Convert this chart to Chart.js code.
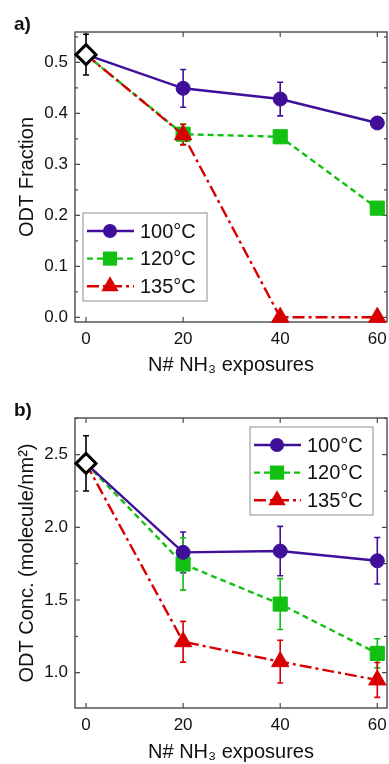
<!DOCTYPE html>
<html>
<head>
<meta charset="utf-8">
<script src="https://cdn.jsdelivr.net/npm/chart.js@4.4.1/dist/chart.umd.min.js"></script>
<style>
html, body { margin: 0; padding: 0; background: #fff; }
body { width: 389px; height: 764px; position: relative; overflow: hidden; font-family: "Liberation Sans", Arial, sans-serif; }
.panel { position: absolute; left: 0; width: 389px; height: 382px; }
.tag { position: absolute; left: 14px; font-weight: bold; font-size: 19px; line-height: 19px; color: #111; }
</style>
</head>
<body>
<div class="panel" style="top:0"><canvas id="chartA" width="389" height="382"></canvas></div>
<div class="panel" style="top:382px"><canvas id="chartB" width="389" height="382"></canvas></div>
<div class="tag" style="top:14px">a)</div>
<div class="tag" style="top:400px">b)</div>
<script>
// exposures (x) and series names
const exposures = [0, 20, 40, 60];
const seriesNames = ['100°C', '120°C', '135°C'];

// panel a) ODT fraction, first point is the unexposed sample
const fraction100 = [0.515, 0.449, 0.428, 0.381];
const fraction120 = [0.515, 0.359, 0.354, 0.214];
const fraction135 = [0.515, 0.358, 0.0, 0.0];
const fractionErr100 = [0.04, 0.037, 0.033, 0.006];
const fractionErr120 = [0.04, 0.02, 0.008, 0.008];
const fractionErr135 = [0.04, 0.02, 0, 0];
const fractionTicks = [0.0, 0.1, 0.2, 0.3, 0.4, 0.5];

// panel b) ODT concentration (molecule/nm2)
const conc100 = [2.44, 1.828, 1.837, 1.77];
const conc120 = [2.44, 1.748, 1.472, 1.133];
const conc135 = [2.44, 1.213, 1.076, 0.95];
const concErr100 = [0.19, 0.14, 0.17, 0.16];
const concErr120 = [0.19, 0.18, 0.175, 0.10];
const concErr135 = [0.19, 0.14, 0.147, 0.12];
const concTicks = [1.0, 1.5, 2.0, 2.5];

const FONT = 'Liberation Sans';
const COLORS = ['#3f0f9a', '#12c012', '#d80000'];
const DASHES = [[], [6, 4], [12, 4, 3, 4]];
const STYLES = ['circle', 'rect', 'triangle'];
const RADII = [7, 10, 10];

function pts(values) {
    return values.map((v, i) => ({ x: exposures[i], y: v }));
}

function buildDatasets(seriesValues, seriesErrs) {
    const order = [1, 3, 2];
    const sets = seriesValues.map((vals, k) => ({
        label: seriesNames[k],
        data: pts(vals),
        errors: seriesErrs[k].map((e, i) => i === 0 ? 0 : e),
        borderColor: COLORS[k],
        backgroundColor: COLORS[k],
        borderWidth: 2.4,
        borderDash: DASHES[k],
        pointStyle: STYLES[k],
        pointRadius: vals.map((v, i) => i === 0 ? 0 : RADII[k]),
        pointBorderWidth: 1,
        inLegend: true,
        order: order[k],
        clip: false
    }));
    // unexposed starting point (open diamond)
    sets.push({
        label: 'start',
        data: [{ x: exposures[0], y: seriesValues[0][0] }],
        errors: [seriesErrs[0][0]],
        errorColor: '#000',
        showLine: false,
        pointStyle: 'rectRot',
        pointRadius: 10,
        pointBorderWidth: 3,
        borderColor: '#000',
        backgroundColor: '#fff',
        order: 0,
        clip: false
    });
    return sets;
}

function drawMarker(ctx, style, r, x, y) {
    ctx.beginPath();
    if (style === 'circle') {
        ctx.arc(x, y, r, 0, Math.PI * 2);
    } else if (style === 'rect') {
        const s = r * Math.SQRT1_2;
        ctx.rect(x - s, y - s, 2 * s, 2 * s);
    } else if (style === 'triangle') {
        ctx.moveTo(x, y - r);
        ctx.lineTo(x + r * Math.sin(2 * Math.PI / 3), y - r * Math.cos(2 * Math.PI / 3));
        ctx.lineTo(x - r * Math.sin(2 * Math.PI / 3), y - r * Math.cos(2 * Math.PI / 3));
        ctx.closePath();
    }
    ctx.fill();
}

// frame with inward ticks on all four sides
const framePlugin = {
    id: 'frame',
    beforeDatasetsDraw(chart) {
        const { ctx, chartArea: a, scales: { x, y } } = chart;
        ctx.save();
        ctx.strokeStyle = '#4a4a4a';
        ctx.lineWidth = 1.4;
        ctx.strokeRect(a.left, a.top, a.right - a.left, a.bottom - a.top);
        ctx.lineWidth = 1.2;
        ctx.beginPath();
        x.ticks.forEach(t => {
            const px = x.getPixelForValue(t.value);
            ctx.moveTo(px, a.bottom); ctx.lineTo(px, a.bottom - 5);
            ctx.moveTo(px, a.top); ctx.lineTo(px, a.top + 5);
        });
        const yv = y.ticks.map(t => t.value);
        yv.forEach(v => {
            const py = y.getPixelForValue(v);
            ctx.moveTo(a.left, py); ctx.lineTo(a.left + 5, py);
            ctx.moveTo(a.right, py); ctx.lineTo(a.right - 5, py);
        });
        const step = yv[1] - yv[0];
        const minors = [];
        for (let i = 0; i < yv.length; i++) minors.push(yv[i] + step / 2);
        minors.push(yv[0] - step / 2);
        minors.forEach(v => {
            if (v < y.min || v > y.max) return;
            const py = y.getPixelForValue(v);
            ctx.moveTo(a.left, py); ctx.lineTo(a.left + 3, py);
            ctx.moveTo(a.right, py); ctx.lineTo(a.right - 3, py);
        });
        ctx.stroke();
        ctx.restore();
    }
};

const errorBarPlugin = {
    id: 'errorBars',
    beforeDatasetsDraw(chart) {
        const { ctx, scales: { x, y } } = chart;
        chart.data.datasets.forEach(ds => {
            if (!ds.errors) return;
            ctx.save();
            ctx.strokeStyle = ds.errorColor || ds.borderColor;
            ctx.lineWidth = 1.6;
            ds.data.forEach((p, j) => {
                const e = ds.errors[j];
                if (!e) return;
                const px = x.getPixelForValue(p.x);
                const top = y.getPixelForValue(p.y + e);
                const bot = y.getPixelForValue(p.y - e);
                ctx.beginPath();
                ctx.moveTo(px, top); ctx.lineTo(px, bot);
                ctx.moveTo(px - 3, top); ctx.lineTo(px + 3, top);
                ctx.moveTo(px - 3, bot); ctx.lineTo(px + 3, bot);
                ctx.stroke();
            });
            ctx.restore();
        });
    }
};

// boxed legend with line sample and marker
const boxLegendPlugin = {
    id: 'boxLegend',
    afterDraw(chart, args, opts) {
        const ctx = chart.ctx;
        const b = opts.box;
        ctx.save();
        ctx.fillStyle = '#fff';
        ctx.fillRect(b.left, b.top, b.width, b.height);
        ctx.strokeStyle = '#a0a0a0';
        ctx.lineWidth = 1.2;
        ctx.strokeRect(b.left, b.top, b.width, b.height);
        const items = chart.data.datasets.filter(ds => ds.inLegend);
        items.forEach((ds, k) => {
            const cy = b.top + 18 + k * 27.6;
            ctx.strokeStyle = ds.borderColor;
            ctx.lineWidth = ds.borderWidth;
            ctx.setLineDash(ds.borderDash);
            ctx.beginPath();
            ctx.moveTo(b.left + 4, cy);
            ctx.lineTo(b.left + 51, cy);
            ctx.stroke();
            ctx.setLineDash([]);
            ctx.fillStyle = ds.backgroundColor;
            drawMarker(ctx, ds.pointStyle, RADII[k], b.left + 27, cy);
            ctx.fillStyle = '#111';
            ctx.font = '20px "' + FONT + '"';
            ctx.textBaseline = 'middle';
            ctx.fillText(ds.label, b.left + 57, cy + 1);
        });
        ctx.restore();
    }
};

function makeChart(canvasId, cfg) {
    const ctx = document.getElementById(canvasId).getContext('2d');
    return new Chart(ctx, {
        type: 'line',
        data: { datasets: cfg.datasets },
        plugins: [framePlugin, errorBarPlugin, boxLegendPlugin],
        options: {
            responsive: false,
            animation: false,
            events: [],
            layout: { autoPadding: false, padding: { top: cfg.top, right: 2, left: 0, bottom: 0 } },
            plugins: {
                legend: { display: false },
                tooltip: { enabled: false },
                boxLegend: { box: cfg.legendBox }
            },
            scales: {
                x: {
                    type: 'linear',
                    min: -2.27,
                    max: 62.0,
                    afterFit: s => {
                        s.height = cfg.xHeight;
                        s.paddingLeft = 0;
                        s.paddingRight = 0;
                    },
                    grid: { display: false, drawTicks: false },
                    border: { display: false },
                    ticks: {
                        stepSize: 20,
                        includeBounds: false,
                        padding: 7,
                        color: '#111',
                        font: { family: FONT, size: 17 },
                        maxRotation: 0
                    },
                    title: {
                        display: true,
                        text: 'N# NH₃ exposures',
                        color: '#111',
                        font: { family: FONT, size: 20 },
                        padding: { top: 0, bottom: cfg.xTitlePad }
                    }
                },
                y: {
                    type: 'linear',
                    min: cfg.yMin,
                    max: cfg.yMax,
                    afterFit: s => {
                        s.width = 75;
                        s.paddingTop = 0;
                        s.paddingBottom = 0;
                    },
                    afterBuildTicks: s => { s.ticks = cfg.yTicks.map(v => ({ value: v })); },
                    grid: { display: false, drawTicks: false },
                    border: { display: false },
                    ticks: {
                        padding: 7,
                        color: '#111',
                        font: { family: FONT, size: 17 },
                        callback: v => Number(v).toFixed(1)
                    },
                    title: {
                        display: true,
                        text: cfg.yTitle,
                        color: '#111',
                        font: { family: FONT, size: 20 },
                        padding: { top: 15.5, bottom: 0 }
                    }
                }
            }
        }
    });
}

makeChart('chartA', {
    datasets: buildDatasets([fraction100, fraction120, fraction135], [fractionErr100, fractionErr120, fractionErr135]),
    top: 32,
    xHeight: 60,
    xTitlePad: 5,
    yMin: -0.0092,
    yMax: 0.5594,
    yTicks: fractionTicks,
    yTitle: 'ODT Fraction',
    legendBox: { left: 83, top: 213, width: 124, height: 88 }
});

makeChart('chartB', {
    datasets: buildDatasets([conc100, conc120, conc135], [concErr100, concErr120, concErr135]),
    top: 36,
    xHeight: 56,
    xTitlePad: 0,
    yMin: 0.757,
    yMax: 2.7525,
    yTicks: concTicks,
    yTitle: 'ODT Conc. (molecule/nm²)',
    legendBox: { left: 250, top: 45, width: 123, height: 88 }
});
</script>
</body>
</html>
